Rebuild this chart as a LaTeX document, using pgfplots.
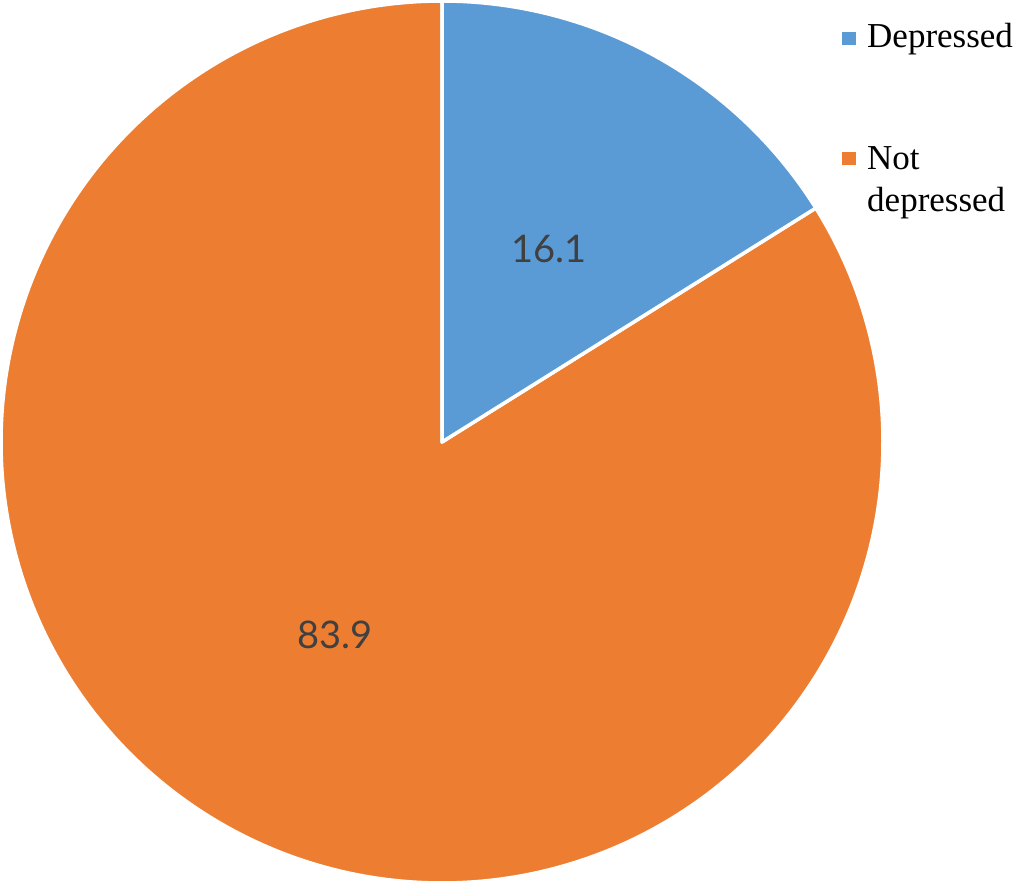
\documentclass[border=0pt]{standalone}
\usepackage{pgfplots}
\pgfplotsset{compat=1.18}
\usepackage{fontspec}
\setmainfont{Liberation Serif}
\newfontfamily\labelfont{Lato}
\definecolor{pieblue}{HTML}{5B9BD5}
\definecolor{pieorange}{HTML}{ED7D31}
\definecolor{labelgray}{HTML}{404040}
\begin{document}
\begin{tikzpicture}
\def\vA{16.1}
\def\vB{83.9}
\def\cx{442}
\def\cy{442}
\def\R{441}
\pgfmathsetmacro{\aEnd}{90-\vA*3.6}
\pgfmathsetmacro{\bEnd}{\aEnd-\vB*3.6}
\pgfmathsetmacro{\aMid}{90-\vA*1.8}
\pgfmathsetmacro{\bMid}{\aEnd-\vB*1.8}
\begin{axis}[
  name=ax,
  x=1pt, y=1pt,
  xmin=0, xmax=1024, ymin=0, ymax=884,
  hide axis, clip=false,
  scale only axis,
]
% Not depressed slice
\addplot[fill=pieorange, draw=white, line width=3.5pt, line join=round,
  domain=\bEnd:\aEnd, samples=200, smooth]
  ({\cx+\R*cos(x)}, {\cy+\R*sin(x)}) -- (axis cs:\cx,\cy) -- cycle;
% Depressed slice
\addplot[fill=pieblue, draw=white, line width=3.5pt, line join=round,
  domain=\aEnd:90, samples=80, smooth]
  ({\cx+\R*cos(x)}, {\cy+\R*sin(x)}) -- (axis cs:\cx,\cy) -- cycle;
% data labels
\node[font=\labelfont\fontsize{38}{44}\selectfont, text=labelgray]
  at (axis cs:{\cx+0.5*\R*cos(\aMid)},{\cy+0.5*\R*sin(\aMid)}) {16.1};
\node[font=\labelfont\fontsize{38}{44}\selectfont, text=labelgray]
  at (axis cs:{\cx+0.5*\R*cos(\bMid)},{\cy+0.5*\R*sin(\bMid)}) {83.9};
% legend
\fill[pieblue] (axis cs:842,839) rectangle (axis cs:856,852);
\fill[pieorange] (axis cs:842,719) rectangle (axis cs:856,732);
\node[anchor=base west, inner sep=0pt, font=\rmfamily\fontsize{35}{42}\selectfont]
  at (axis cs:867,836) {Depressed};
\node[anchor=base west, inner sep=0pt, font=\rmfamily\fontsize{35}{42}\selectfont]
  at (axis cs:867,714) {Not};
\node[anchor=base west, inner sep=0pt, font=\rmfamily\fontsize{35}{42}\selectfont]
  at (axis cs:867,672) {depressed};
\end{axis}
\pgfresetboundingbox
\useasboundingbox (ax.south west) rectangle (ax.north east);
\end{tikzpicture}
\end{document}
